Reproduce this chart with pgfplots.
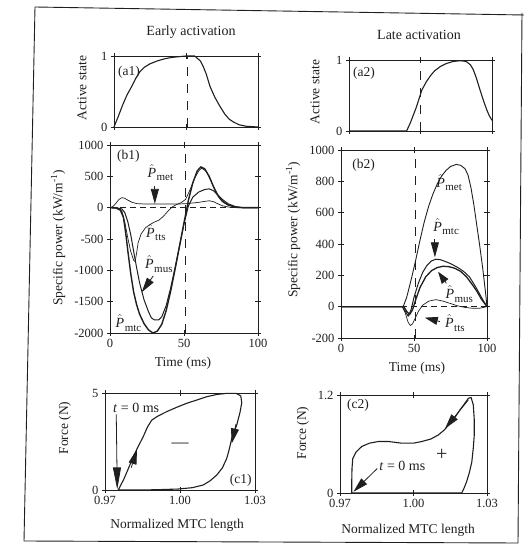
\documentclass[border=0pt]{standalone}
\usepackage{fontspec}
\setmainfont{Liberation Serif}
\usepackage{amsmath}
\usepackage{pgfplots}
\pgfplotsset{compat=1.18}
\usetikzlibrary{arrows.meta}

\definecolor{ink}{gray}{0.12}
\newcommand{\Ph}[1]{$\hat{\textit{P}}$\kern0.5pt\raisebox{-0.5ex}{\fontsize{11}{11}\selectfont #1}}

\pgfplotsset{
  pan/.style={
    scale only axis, clip=false, enlargelimits=false, anchor=south west,
    axis line style={ink, line width=0.8pt},
    tick style={ink, line width=0.6pt},
    tick align=center, major tick length=6pt,
    ticklabel style={font=\fontsize{12.5}{13}\selectfont, text=ink},
  },
}
\tikzset{
  tri/.style={-{Triangle[length=#1, width=8pt]}, ink, line width=0.8pt},
  tri/.default=15pt,
  lab/.style={font=\fontsize{13.5}{14}\selectfont, text=ink},
  ann/.style={font=\fontsize{14}{15}\selectfont, text=ink, inner sep=0pt},
}

\begin{document}
\begin{tikzpicture}
\useasboundingbox (0pt,0pt) rectangle (524pt,552pt);
\draw[ink, line width=0.9pt] (524pt,537pt) -- (35pt,545pt) -- (24pt,11pt) -- (518pt,9pt) -- (522pt,539pt);

% titles and axis labels
\node[font=\fontsize{14}{15}\selectfont, text=ink] at (191pt,520pt) {Early activation};
\node[font=\fontsize{14}{15}\selectfont, text=ink] at (419pt,517pt) {Late activation};
\node[lab, rotate=90] at (82pt,464pt) {Active state};
\node[lab, rotate=90] at (315pt,460pt) {Active state};
\node[lab, rotate=90] at (58pt,314pt) {Specific power (kW/m\textsuperscript{-1})};
\node[lab, rotate=90] at (293pt,322pt) {Specific power (kW/m\textsuperscript{-1})};
\node[lab] at (183pt,189pt) {Time (ms)};
\node[lab] at (417pt,184pt) {Time (ms)};
\node[lab, rotate=90] at (65pt,124pt) {Force (N)};
\node[lab, rotate=90] at (303pt,119pt) {Force (N)};
\node[lab] at (177pt,27pt) {Normalized MTC length};
\node[lab] at (408pt,22pt) {Normalized MTC length};

% (a1)
\begin{axis}[pan, at={(114pt,425pt)}, width=144pt, height=71pt,
  xmin=0, xmax=100, ymin=0, ymax=1, xtick={0,50,100}, xticklabels={,,},
  ytick={0,1}, yticklabels={0,1}]
\addplot[ink, line width=1.1pt] coordinates {(0,0) (3,0.15) (6,0.31) (9,0.45) (12,0.56) (15,0.68) (18,0.78) (21,0.84) (25,0.89) (30,0.93) (35,0.96) (40,0.98) (45,0.99) (50,1.0) (56,1.0) (60,0.93) (62,0.85) (64,0.75) (66.7,0.57) (70,0.42) (73.6,0.29) (77,0.18) (80,0.11) (83,0.07) (87,0.03) (92,0.01) (100,0)};
\addplot[ink, line width=0.8pt, dash pattern=on 9pt off 8pt] coordinates {(51,0) (51,1)};
\node[lab, anchor=north west, inner sep=1pt] at (rel axis cs:0.02,0.88) {(a1)};
\end{axis}

% (a2)
\begin{axis}[pan, at={(349pt,421pt)}, width=143pt, height=71pt,
  xmin=0, xmax=100, ymin=0, ymax=1, xtick={0,50,100}, xticklabels={,,},
  ytick={0,1}, yticklabels={0,1}]
\addplot[ink, line width=1.1pt] coordinates {(0,0) (40.3,0) (43,0.12) (47,0.33) (51,0.58) (54,0.69) (57,0.78) (60,0.85) (64,0.91) (68,0.95) (73,0.98) (78,0.99) (82,0.98) (85,0.93) (87,0.86) (89,0.75) (91.6,0.58) (94,0.43) (96.3,0.3) (98,0.22) (100,0.15)};
\addplot[ink, line width=0.8pt, dash pattern=on 9pt off 8pt] coordinates {(50,0) (50,1)};
\node[lab, anchor=north west, inner sep=1pt] at (rel axis cs:0.02,0.92) {(a2)};
\end{axis}

% (b1)
\begin{axis}[pan, at={(110pt,219pt)}, width=148pt, height=188pt,
  xmin=0, xmax=100, ymin=-2000, ymax=1000, xtick={0,50,100}, xticklabels={0,50,100},
  ytick={-2000,-1500,-1000,-500,0,500,1000},
  yticklabels={-2000,-1500,-1000,-500,0,500,1000}]
\addplot[ink, line width=0.6pt, dash pattern=on 6pt off 4pt] coordinates {(0,0) (100,0)};
\addplot[ink, line width=0.8pt, dash pattern=on 9pt off 8pt] coordinates {(51,-2000) (51,1000)};
% P_mtc
\addplot[ink, line width=1.4pt] coordinates {(0,0) (4,-5) (7,-40) (9,-150) (10,-300) (11,-480) (12,-680) (14,-1050) (16,-1350) (18,-1550) (20,-1700) (23,-1850) (26,-1950) (29,-2000) (32,-1970) (35,-1860) (38,-1640) (41,-1330) (44,-980) (47,-610) (50,-240) (53,120) (56,400) (59,590) (61.5,650) (64,620) (67,500) (70,330) (73,190) (76,100) (80,40) (85,10) (90,0) (100,0)};
% P_mus
\addplot[ink, line width=1pt] coordinates {(0,0) (5,-5) (8,-20) (10,-80) (12,-220) (14,-430) (16,-700) (18,-960) (20,-1200) (23,-1470) (26,-1660) (28,-1760) (30,-1790) (33,-1790) (35,-1740) (38,-1560) (41,-1280) (44,-950) (47,-610) (50,-260) (53,30) (56,170) (60,250) (64,290) (67,300) (70,270) (73,200) (76,130) (80,60) (85,15) (90,0) (100,0)};
% P_tts
\addplot[ink, line width=0.7pt] coordinates {(0,0) (5,0) (8,-50) (10,-230) (12,-480) (14,-700) (16,-840) (17,-860) (18,-720) (19,-560) (21,-420) (24,-320) (27,-270) (30,-230) (33,-200) (36,-140) (39,-60) (42,10) (45,50) (48,80) (51,130) (54,280) (57,460) (60,590) (62,630) (65,580) (68,440) (71,280) (74,150) (77,80) (80,40) (85,10) (90,0) (100,0)};
% P_met
\addplot[ink, line width=0.7pt] coordinates {(0,0) (2,20) (4,70) (6,130) (8,160) (10,150) (12,120) (15,85) (18,65) (22,60) (30,60) (40,60) (48,60) (52,65) (56,75) (60,85) (64,100) (67,110) (70,95) (73,60) (76,30) (80,10) (85,0) (100,0)};
\node[lab, anchor=north west, inner sep=1pt] at (rel axis cs:0.04,0.98) {(b1)};
\node[ann] at (axis cs:34,560) {\Ph{met}};
\draw[tri] (axis cs:30.3,345) -- (axis cs:30.3,60);
\node[ann] at (axis cs:31,-400) {\Ph{tts}};
\node[ann] at (axis cs:33,-900) {\Ph{mus}};
\draw[tri] (axis cs:29.2,-1090) -- (axis cs:21.4,-1350);
\node[ann] at (axis cs:12.5,-1840) {\Ph{mtc}};
\end{axis}

% (b2)
\begin{axis}[pan, at={(341pt,214pt)}, width=146pt, height=188pt,
  xmin=0, xmax=100, ymin=-200, ymax=1000, xtick={0,50,100}, xticklabels={0,50,100},
  ytick={-200,0,200,400,600,800,1000},
  yticklabels={-200,0,200,400,600,800,1000}]
\addplot[ink, line width=0.6pt, dash pattern=on 6pt off 4pt] coordinates {(0,0) (100,0)};
\addplot[ink, line width=0.8pt, dash pattern=on 9pt off 8pt] coordinates {(51,-200) (51,1000)};
% P_met
\addplot[ink, line width=0.9pt] coordinates {(0,0) (42.6,0) (45,60) (48,170) (51,290) (54,420) (57,540) (60,640) (63,720) (66,785) (69,835) (72,870) (75,895) (79,908) (82,902) (85,880) (87,840) (89,760) (91,650) (93,520) (95,390) (97,250) (99,90) (100,0)};
% P_mtc
\addplot[ink, line width=1pt] coordinates {(0,0) (42,0) (44,-30) (46,-60) (48,-20) (50,60) (53,150) (56,220) (59,265) (62,292) (65,303) (68,300) (71,290) (75,275) (80,250) (84,225) (88,190) (92,130) (95,80) (98,30) (100,0)};
% P_mus
\addplot[ink, line width=1.3pt] coordinates {(0,0) (43,0) (45,-30) (47,-50) (49,-20) (51,40) (54,120) (58,190) (62,230) (66,250) (70,258) (74,255) (78,245) (82,225) (86,190) (90,140) (93,100) (96,50) (100,0)};
% P_tts
\addplot[ink, line width=0.7pt] coordinates {(0,0) (42,0) (44,-40) (46,-100) (47.5,-120) (49,-110) (51,-70) (53,-30) (56,10) (60,35) (65,45) (70,35) (75,20) (80,5) (85,-5) (90,-10) (95,-10) (100,0)};
\node[lab, anchor=north west, inner sep=1pt] at (rel axis cs:0.07,0.96) {(b2)};
\node[ann] at (axis cs:74,790) {\Ph{met}};
\node[ann] at (axis cs:72,510) {\Ph{mtc}};
\draw[tri] (axis cs:64.3,430) -- (axis cs:64.3,315);
\node[ann] at (axis cs:81,80) {\Ph{mus}};
\draw[tri=12pt] (axis cs:72.2,149) -- (axis cs:66.5,223);
\node[ann] at (axis cs:78,-105) {\Ph{tts}};
\draw[tri=13pt] (axis cs:67.7,-95) -- (axis cs:57.4,-70);
\end{axis}

% (c1)
\begin{axis}[pan, at={(105pt,62pt)}, width=150pt, height=97pt,
  xmin=0.97, xmax=1.03, ymin=0, ymax=5, xtick={0.97,1,1.03}, xticklabels={0.97,1.00,1.03},
  ytick={0,5}, yticklabels={0,5}]
\addplot[ink, line width=1.1pt] coordinates {(0.9753,0) (0.9775,0.55) (0.9795,1.15) (0.9813,1.72) (0.9835,2.3) (0.9853,2.75) (0.9870,3.25) (0.9887,3.6) (0.9910,3.8) (0.9947,4.04) (0.9990,4.28) (1.0027,4.47) (1.0070,4.65) (1.0107,4.81) (1.0150,4.93) (1.0187,4.98) (1.0225,4.98) (1.0243,4.85) (1.0247,4.5) (1.0240,4.0) (1.0227,3.35) (1.0207,2.66) (1.0197,2.1) (1.0187,1.63) (1.0170,1.15) (1.0147,0.77) (1.0120,0.47) (1.0093,0.26) (1.0050,0.12) (0.9993,0.05) (0.9920,0.02) (0.9850,0) (0.9753,0)};
\node[ann, anchor=west] at (axis cs:0.9732,4.25) {\textit{t} = 0 ms};
\draw[tri=22pt] (axis cs:0.9745,3.9) -- (axis cs:0.9749,0.03);
\draw[tri] (axis cs:0.9805,1.15) -- (axis cs:0.9828,2.1);
\draw[tri] (axis cs:1.0224,3.4) -- (axis cs:1.0207,2.4);
\node[font=\fontsize{17}{17}\selectfont, text=ink] at (axis cs:1.0,2.3) {---};
\node[lab, anchor=south east, inner sep=1pt] at (rel axis cs:0.985,0.03) {(c1)};
\end{axis}

% (c2)
\begin{axis}[pan, at={(340pt,59pt)}, width=147pt, height=98pt,
  xmin=0.97, xmax=1.03, ymin=0, ymax=1.2, xtick={0.97,1,1.03}, xticklabels={0.97,1.00,1.03},
  ytick={0,1.2}, yticklabels={0,1.2}]
\addplot[ink, line width=1.1pt] coordinates {(0.9748,0) (0.9748,0.15) (0.9749,0.30) (0.9752,0.42) (0.9765,0.50) (0.9789,0.57) (0.9820,0.61) (0.9856,0.63) (0.9900,0.63) (0.9952,0.61) (1.0000,0.61) (1.0033,0.63) (1.0070,0.66) (1.0101,0.71) (1.0125,0.77) (1.0149,0.85) (1.0170,0.93) (1.0190,1.02) (1.0210,1.10) (1.0224,1.16) (1.0235,1.17) (1.0244,1.08) (1.0248,0.9) (1.0248,0.71) (1.0244,0.55) (1.0238,0.38) (1.0228,0.25) (1.0217,0.14) (1.0205,0.05) (1.0197,0) (0.9748,0)};
\node[ann, anchor=west] at (axis cs:0.9860,0.33) {\textit{t} = 0 ms};
\draw[tri] (axis cs:0.9852,0.30) -- (axis cs:0.9755,0.015);
\draw[tri] (axis cs:1.0224,1.14) -- (axis cs:1.0129,0.79);
\node[font=\fontsize{20}{20}\selectfont, text=ink] at (axis cs:1.0115,0.47) {+};
\node[lab, anchor=north west, inner sep=1pt] at (rel axis cs:0.04,0.97) {(c2)};
\end{axis}
\end{tikzpicture}
\end{document}
